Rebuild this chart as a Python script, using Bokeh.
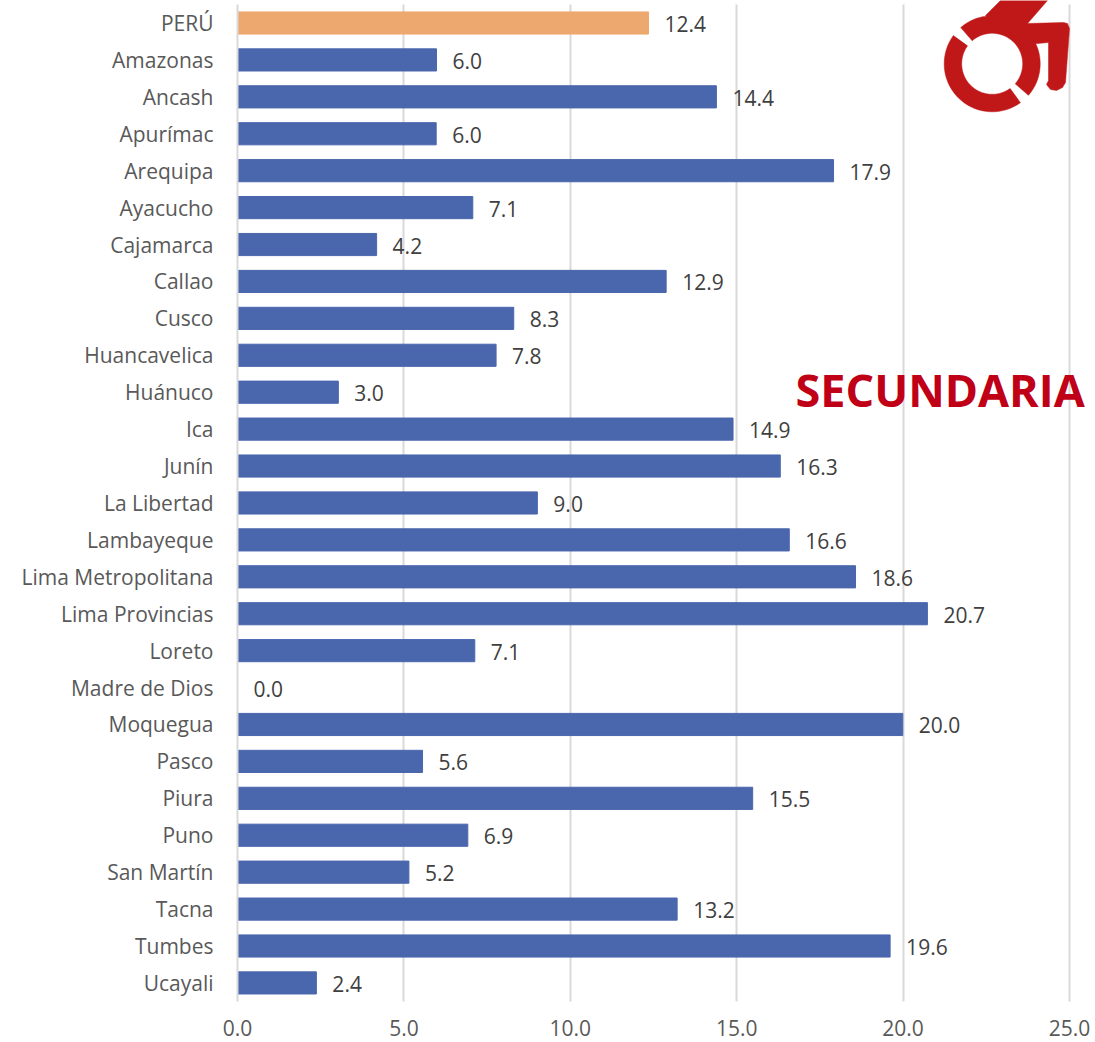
import numpy as np
from bokeh.plotting import figure
from bokeh.models import Range1d, ColumnDataSource, FixedTicker, NumeralTickFormatter
from bokeh.core.properties import value
from bokeh.embed import file_html
from bokeh.resources import INLINE

categories = ["PERÚ", "Amazonas", "Ancash", "Apurímac", "Arequipa", "Ayacucho", "Cajamarca", "Callao", "Cusco",
              "Huancavelica", "Huánuco", "Ica", "Junín", "La Libertad", "Lambayeque", "Lima Metropolitana",
              "Lima Provincias", "Loreto", "Madre de Dios", "Moquegua", "Pasco", "Piura", "Puno", "San Martín",
              "Tacna", "Tumbes", "Ucayali"]
values = [12.35, 5.98, 14.39, 5.97, 17.91, 7.07, 4.18, 12.88, 8.30, 7.77, 3.03, 14.89, 16.31, 9.01, 16.58, 18.57,
          20.73, 7.13, 0.0, 19.99, 5.56, 15.48, 6.92, 5.15, 13.21, 19.61, 2.37]
labels = ["12.4", "6.0", "14.4", "6.0", "17.9", "7.1", "4.2", "12.9", "8.3", "7.8", "3.0", "14.9", "16.3", "9.0",
          "16.6", "18.6", "20.7", "7.1", "0.0", "20.0", "5.6", "15.5", "6.9", "5.2", "13.2", "19.6", "2.4"]
x_ticks = [0, 5, 10, 15, 20, 25]
title = "SECUNDARIA"

BLUE, ORANGE, RED = "#4A66AC", "#EDA86F", "#C01818"
FONT = "Open Sans"
colors = [ORANGE] + [BLUE] * (len(categories) - 1)
pos = list(range(len(categories)))
src = ColumnDataSource(dict(pos=pos, val=values, lab=labels, col=colors))

W, H = 1095, 1042
L, R, T, B = 237, W, 0, 1002
PX_X, PX_Y, Y0 = 33.28, 36.92, 22.5
x_end = (R - L) / PX_X
dx = lambda px: (np.asarray(px, dtype=float) - L) / PX_X      # picture px -> data, decoration only
dy = lambda py: (np.asarray(py, dtype=float) - Y0) / PX_Y
p = figure(width=W, height=H, frame_width=R - L, frame_height=B - T,
           output_backend="svg", toolbar_location=None,
           x_range=Range1d(0, x_end), y_range=Range1d(float(dy(B)), float(dy(T))),
           min_border_left=L, min_border_right=W - R, min_border_top=T, min_border_bottom=H - B,
           outline_line_color=None)

p.hbar(y="pos", right="val", left=0, height=0.6, fill_color="col", line_color="col", source=src)
p.text(x="val", y="pos", text="lab", source=src, x_offset=16, y_offset=1, text_align="left",
       text_baseline="middle", text_font=value(FONT), text_font_size="21px", text_color="#404040")

p.ygrid.visible = False
p.xgrid.grid_line_color = "#D9D9D9"
p.xgrid.grid_line_width = 2
p.xgrid.cross_bounds = (-0.5, 26.5)
p.xaxis.ticker = FixedTicker(ticks=x_ticks)
p.xaxis.formatter = NumeralTickFormatter(format="0.0")
p.xaxis.axis_line_color = None
p.xaxis.major_tick_line_color = None
p.xaxis.minor_tick_line_color = None
p.xaxis.major_label_standoff = 11
p.xaxis.major_label_text_font = FONT
p.xaxis.major_label_text_font_size = "21px"
p.xaxis.major_label_text_color = "#595959"
p.yaxis.ticker = FixedTicker(ticks=pos)
p.yaxis.major_label_overrides = dict(zip(pos, categories))
p.yaxis.bounds = (-0.5, 26.5)
p.yaxis.axis_line_color = "#D9D9D9"
p.yaxis.axis_line_width = 2
p.yaxis.major_tick_line_color = None
p.yaxis.minor_tick_line_color = None
p.yaxis.major_label_standoff = 18
p.yaxis.major_label_text_font = FONT
p.yaxis.major_label_text_font_size = "21px"
p.yaxis.major_label_text_color = "#595959"

p.text(x=[float(dx(795))], y=[float(dy(388.5))], text=[title], text_align="left", text_baseline="middle",
       text_font=value(FONT), text_font_style="bold", text_font_size="45px", text_color="#C00016")

# wheelchair logo
cx, cy, ro, ri = 991.7, 63.3, 48, 30.5
def ring(a0, a1):
    t = np.radians(np.linspace(a0, a1, 60))
    return (np.r_[cx + ro * np.cos(t), cx + ri * np.cos(t[::-1])],
            np.r_[cy - ro * np.sin(t), cy - ri * np.sin(t[::-1])])
def poly(xs, ys):
    p.patch(dx(xs), dy(ys), fill_color=RED, line_color=RED, line_width=0.5)
poly(*ring(144, 306))
poly(*ring(-41, 131))
body_x = [985, 1000, 1047, 1027, 1063, 1067, 1069, 1065, 1062, 1056, 1050, 1046, 1048, 1048, 1037, 1020, 1005]
body_y = [15, 0, 0, 23, 22, 23, 28, 82, 87, 90, 89, 84, 80, 42, 43, 43, 25]
poly(body_x, body_y)

open("out.html", "w").write(file_html(p, INLINE))
